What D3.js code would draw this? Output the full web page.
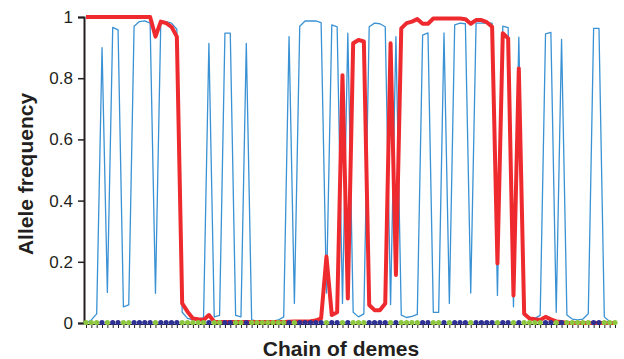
<!DOCTYPE html>
<html>
<head>
<meta charset="utf-8">
<script src="https://cdn.jsdelivr.net/npm/d3@7"></script>
<style>
  html, body { margin: 0; padding: 0; background: #fff; }
  svg { display: block; font-family: "Liberation Sans", Arial, sans-serif; }
</style>
</head>
<body>
<svg id="chart" width="624" height="359"></svg>
<script>
// allele frequency in each of 100 demes along the chain
const blueFreq = [
  0.0, 0.01, 0.03, 0.90, 0.10, 0.966, 0.958, 0.053, 0.059, 0.97,
  0.985, 0.987, 0.98, 0.097, 0.987, 0.985, 0.98, 0.96, 0.035, 0.015,
  0.01, 0.012, 0.018, 0.914, 0.02, 0.025, 0.947, 0.947, 0.025, 0.02,
  0.914, 0.01, 0.006, 0.004, 0.004, 0.006, 0.01, 0.02, 0.936, 0.064,
  0.97, 0.987, 0.987, 0.987, 0.982, 0.098, 0.974, 0.968, 0.064, 0.947,
  0.035, 0.02, 0.03, 0.968, 0.98, 0.978, 0.968, 0.06, 0.936, 0.026,
  0.018, 0.022, 0.028, 0.941, 0.948, 0.035, 0.035, 0.948, 0.064, 0.974,
  0.98, 0.978, 0.098, 0.98, 0.98, 0.98, 0.98, 0.09, 0.97, 0.965,
  0.053, 0.934, 0.025, 0.015, 0.015, 0.025, 0.945, 0.95, 0.035, 0.927,
  0.026, 0.013, 0.01, 0.013, 0.03, 0.963, 0.963, 0.02, 0.005, 0.0
];

const redFreq = [
  1, 1, 1, 1, 1, 1, 1, 1, 1, 1,
  1, 1, 1, 0.936, 0.985, 0.98, 0.968, 0.936, 0.064, 0.037,
  0.015, 0.012, 0.01, 0.026, 0.004, 0.003, 0.003, 0.003, 0.003, 0.003,
  0.003, 0.003, 0.003, 0.003, 0.003, 0.003, 0.003, 0.003, 0.004, 0.005,
  0.005, 0.005, 0.006, 0.008, 0.015, 0.217, 0.026, 0.035, 0.81, 0.08,
  0.914, 0.925, 0.92, 0.059, 0.042, 0.042, 0.064, 0.914, 0.157, 0.963,
  0.98, 0.985, 0.993, 0.978, 0.978, 0.995, 0.995, 0.995, 0.995, 0.995,
  0.995, 0.993, 0.978, 0.99, 0.99, 0.983, 0.968, 0.195, 0.947, 0.93,
  0.09, 0.832, 0.03, 0.015, 0.012, 0.01, 0.02, 0.012, 0.005, 0.003,
  0, 0, 0, 0, 0, 0, 0, 0, 0, 0
];

const yTicks = [0, 0.2, 0.4, 0.6, 0.8, 1];
const yTickLabels = ['0', '0.2', '0.4', '0.6', '0.8', '1'];

const demes = d3.range(blueFreq.length);

const svg = d3.select('#chart');

const x = d3.scaleLinear().domain([0, demes.length - 1]).range([86, 615]);
const y = d3.scaleLinear().domain([0, 1]).range([323, 17]);

// y axis
const yAxis = svg.append('g')
  .attr('transform', 'translate(84,0)')
  .call(d3.axisLeft(y).tickValues(yTicks).tickSize(6).tickPadding(5)
    .tickFormat((d, i) => yTickLabels[i]));
yAxis.select('.domain').attr('stroke', '#231f20').attr('stroke-width', 2);
yAxis.selectAll('.tick line').attr('stroke', '#231f20').attr('stroke-width', 1.5);
yAxis.selectAll('.tick text')
  .attr('fill', '#231f20')
  .style('font-size', '17px')
  .style('font-family', '"Liberation Sans", Arial, sans-serif');

// x axis, one tick per deme
const xAxis = svg.append('g')
  .attr('transform', 'translate(0,324)')
  .call(d3.axisBottom(x).tickValues(demes).tickSize(4).tickSizeOuter(0).tickFormat(''));
xAxis.select('.domain').attr('stroke', '#231f20').attr('stroke-width', 1);
xAxis.selectAll('.tick line').attr('stroke', '#231f20').attr('stroke-width', 1);

const line = d3.line()
  .x((d, i) => x(i))
  .y(d => y(d));

svg.append('path')
  .datum(blueFreq)
  .attr('fill', 'none')
  .attr('stroke', '#3a92d4')
  .attr('stroke-width', 1.3)
  .attr('stroke-linejoin', 'round')
  .attr('d', line);

svg.append('path')
  .datum(redFreq)
  .attr('fill', 'none')
  .attr('stroke', '#ee2a2f')
  .attr('stroke-width', 4)
  .attr('stroke-linejoin', 'round')
  .attr('d', line);

// deme dots on the axis
svg.append('g')
  .selectAll('circle')
  .data(blueFreq)
  .join('circle')
  .attr('cx', (d, i) => x(i))
  .attr('cy', 322.5)
  .attr('r', 2.6)
  .attr('fill', d => d > 0.5 ? '#2e3192' : '#8dc63f');

// axis titles
svg.append('text')
  .attr('x', 341)
  .attr('y', 356)
  .attr('text-anchor', 'middle')
  .style('font-size', '21px')
  .style('font-weight', 'bold')
  .attr('fill', '#231f20')
  .text('Chain of demes');

svg.append('text')
  .attr('transform', 'translate(33,174) rotate(-90)')
  .attr('text-anchor', 'middle')
  .style('font-size', '21px')
  .style('font-weight', 'bold')
  .attr('fill', '#231f20')
  .text('Allele frequency');
</script>
</body>
</html>
